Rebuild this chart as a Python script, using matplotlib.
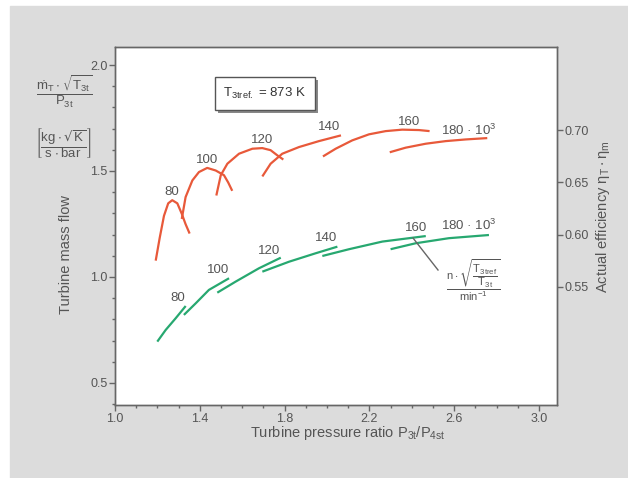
import matplotlib.pyplot as plt
from matplotlib.patches import Rectangle
from matplotlib.lines import Line2D
from matplotlib.ticker import MultipleLocator, FixedLocator, FormatStrFormatter

plt.rcParams['font.family'] = ['Liberation Sans', 'DejaVu Sans']
plt.rcParams['mathtext.fontset'] = 'dejavusans'
plt.rcParams['mathtext.default'] = 'regular'

# speed lines (n * sqrt(T3tref/T3t), 1/min)
speeds = ['80', '100', '120', '140', '160', '180 · 10$^3$']

# efficiency curves (right axis): pressure ratio / eta_T * eta_m
eff_x = [
    [1.192, 1.211, 1.231, 1.251, 1.270, 1.294, 1.315, 1.333, 1.352],
    [1.315, 1.333, 1.365, 1.396, 1.435, 1.475, 1.514, 1.534, 1.553],
    [1.478, 1.499, 1.530, 1.585, 1.648, 1.695, 1.734, 1.766, 1.794],
    [1.695, 1.734, 1.789, 1.868, 1.962, 2.066],
    [1.981, 2.041, 2.119, 2.198, 2.277, 2.355, 2.434, 2.484],
    [2.296, 2.371, 2.466, 2.560, 2.654, 2.756],
]
eff_y = [
    [0.575, 0.597, 0.618, 0.630, 0.633, 0.630, 0.620, 0.610, 0.601],
    [0.615, 0.636, 0.652, 0.660, 0.664, 0.6615, 0.657, 0.650, 0.642],
    [0.6375, 0.657, 0.668, 0.6776, 0.6824, 0.683, 0.681, 0.676, 0.672],
    [0.6558, 0.668, 0.6776, 0.684, 0.6897, 0.6952],
    [0.675, 0.6824, 0.6904, 0.6962, 0.6993, 0.7007, 0.7003, 0.6993],
    [0.679, 0.6834, 0.6872, 0.6897, 0.6913, 0.6926],
]

# mass flow curves (left axis)
flow_x = [
    [1.1995, 1.239, 1.286, 1.3335],
    [1.325, 1.381, 1.443, 1.538],
    [1.4825, 1.569, 1.679, 1.782],
    [1.695, 1.821, 1.947, 2.049],
    [1.978, 2.104, 2.261, 2.466],
    [2.300, 2.418, 2.575, 2.764],
]
flow_y = [
    [0.695, 0.750, 0.805, 0.863],
    [0.821, 0.876, 0.939, 0.994],
    [0.926, 0.978, 1.041, 1.091],
    [1.025, 1.072, 1.112, 1.143],
    [1.099, 1.131, 1.167, 1.193],
    [1.131, 1.159, 1.183, 1.198],
]

# label positions for the speed numbers
eff_lab_x = [1.270, 1.435, 1.695, 2.009, 2.387, 2.670]
eff_lab_y = [0.6407, 0.6718, 0.6904, 0.7032, 0.708, 0.700]
flow_lab_x = [1.294, 1.487, 1.726, 1.994, 2.418, 2.670]
flow_lab_y = [0.900, 1.033, 1.124, 1.183, 1.230, 1.245]

x_ticks = [1.0, 1.4, 1.8, 2.2, 2.6, 3.0]
yl_ticks = [0.5, 1.0, 1.5, 2.0]
yr_ticks = [0.55, 0.60, 0.65, 0.70]

RED = '#e8593a'
GREEN = '#27a870'
GREY = '#555555'
W, H = 628, 478

def fx(px):
    return px / W

def fy(py):
    return 1 - py / H

fig = plt.figure(figsize=(6.28, 4.78), dpi=100)
fig.patches.append(Rectangle((fx(10), 0), 1, fy(6), transform=fig.transFigure,
                             color='#dcdcdc', zorder=-10))

ax = fig.add_axes([fx(115), fy(405), (557 - 115) / W, (405 - 47) / H])
ax2 = ax.twinx()

ax.set_xlim(1.0, 3.085)
ax.set_ylim(0.396, 2.085)
ax2.set_ylim(0.4365, 0.78)

for a in (ax, ax2):
    for s in a.spines.values():
        s.set_color('#666666')
        s.set_linewidth(1.0)

ax.xaxis.set_major_locator(FixedLocator(x_ticks))
ax.xaxis.set_minor_locator(MultipleLocator(0.1))
ax.xaxis.set_major_formatter(FormatStrFormatter('%.1f'))
ax.yaxis.set_major_locator(FixedLocator(yl_ticks))
ax.yaxis.set_minor_locator(MultipleLocator(0.1))
ax.yaxis.set_major_formatter(FormatStrFormatter('%.1f'))
ax2.set_yticks(yr_ticks)
ax2.yaxis.set_major_formatter(FormatStrFormatter('%.2f'))

ax.tick_params(which='major', direction='out', length=4, width=1, color='#666666',
               labelsize=9, labelcolor=GREY, pad=1.5)
ax.tick_params(which='minor', direction='out', length=2.5, width=1, color='#666666')
ax2.tick_params(which='major', direction='out', length=4, width=1, color='#666666',
                labelsize=9, labelcolor=GREY, pad=1.5)

for i in range(len(speeds)):
    ax2.plot(eff_x[i], eff_y[i], color=RED, lw=1.6, solid_capstyle='butt')
    ax.plot(flow_x[i], flow_y[i], color=GREEN, lw=1.6, solid_capstyle='butt')
    ax2.text(eff_lab_x[i], eff_lab_y[i], speeds[i], fontsize=9.5, color=GREY,
             ha='center', va='center')
    ax.text(flow_lab_x[i], flow_lab_y[i], speeds[i], fontsize=9.5, color=GREY,
            ha='center', va='center')

# axis labels
fig.text(fx(348), fy(433), 'Turbine pressure ratio P$_{3t}$/P$_{4st}$', fontsize=10.5,
         color=GREY, ha='center', va='center')
fig.text(fx(66), fy(255), 'Turbine mass flow', fontsize=10.5, color=GREY,
         rotation=90, ha='center', va='center')
fig.text(fx(603), fy(217), r'Actual efficiency $\eta_T\cdot\eta_m$', fontsize=10.5,
         color=GREY, rotation=90, ha='center', va='center')
fig.text(fx(64), fy(92), r'$\dfrac{\dot{m}_T\cdot\sqrt{T_{3t}}}{P_{3t}}$', fontsize=9.5,
         color=GREY, ha='center', va='center')
fig.text(fx(63), fy(143), r'$\left[\dfrac{kg\cdot\sqrt{K}}{s\cdot bar}\right]$', fontsize=9.5,
         color=GREY, ha='center', va='center')

# T3tref box with shadow
fig.patches.append(Rectangle((fx(218), fy(113)), 100 / W, 33 / H, transform=fig.transFigure,
                             facecolor='#888888', edgecolor='none', zorder=5))
fig.patches.append(Rectangle((fx(215), fy(110)), 100 / W, 33 / H, transform=fig.transFigure,
                             facecolor='white', edgecolor='#555555', lw=1, zorder=6))
fig.text(fx(265), fy(93.5), r'$T_{3tref.}$ = 873 K', fontsize=9.5, color='#333333',
         ha='center', va='center', zorder=7)

# speed parameter annotation
fig.add_artist(Line2D([fx(413), fx(438)], [fy(238), fy(270)], color='#666666', lw=1))
fig.text(fx(473), fy(280), r'$\dfrac{n\cdot\sqrt{\dfrac{T_{3tref}}{T_{3t}}}}{min^{-1}}$',
         fontsize=8, color=GREY, ha='center', va='center')

fig.savefig('out.png', dpi=100)
